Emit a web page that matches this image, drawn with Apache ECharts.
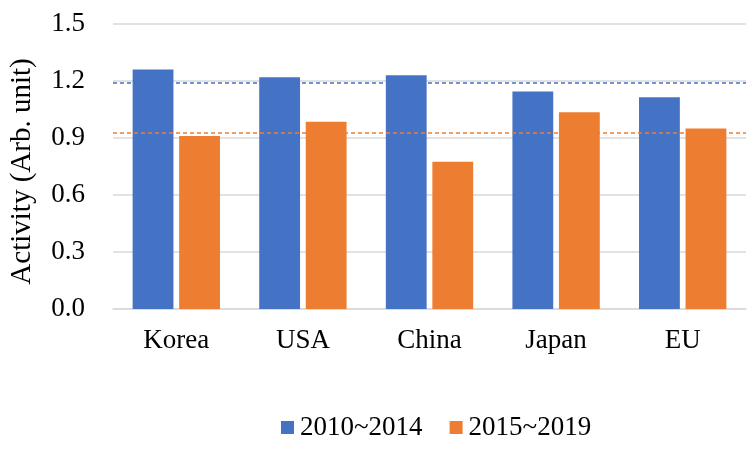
<!DOCTYPE html>
<html>
<head>
<meta charset="utf-8">
<script src="https://cdn.jsdelivr.net/npm/echarts@6/dist/echarts.min.js"></script>
<style>html,body{margin:0;padding:0;background:#fff}#c{width:756px;height:456px}</style>
</head>
<body>
<div id="c"></div>
<script>
const categories = ['Korea', 'USA', 'China', 'Japan', 'EU'];
const seriesNames = ['2010~2014', '2015~2019'];
const values2010 = [1.26, 1.22, 1.23, 1.145, 1.115];
const values2015 = [0.91, 0.985, 0.775, 1.035, 0.95];
const yTicks = { min: 0, max: 1.5, interval: 0.3 };
const yAxisTitle = 'Activity (Arb. unit)';

const font = '"Liberation Serif", "Times New Roman", serif';
const chart = echarts.init(document.getElementById('c'), null, { renderer: 'canvas' });
function avgLine(color) {
  return {
    silent: true,
    symbol: ['none', 'none'],
    label: { show: false },
    lineStyle: { color: color, type: [4, 3], width: 1.5 },
    data: [{ type: 'average' }]
  };
}
chart.setOption({
  animation: false,
  textStyle: { fontFamily: font, color: '#000' },
  grid: { left: 111, right: 10, top: 24, bottom: 147 },
  legend: {
    left: 281, top: 414, padding: 0,
    itemWidth: 13, itemHeight: 13, itemGap: 27,
    icon: 'rect',
    textStyle: { fontFamily: font, fontSize: 27, color: '#000', padding: [0, 0, 0, 1] },
    data: seriesNames
  },
  xAxis: {
    type: 'category',
    data: categories,
    axisLine: { lineStyle: { color: '#d9d9d9', width: 1.5 } },
    axisTick: { show: false },
    axisLabel: { fontFamily: font, fontSize: 27, color: '#000', margin: 18 }
  },
  yAxis: {
    type: 'value',
    min: yTicks.min, max: yTicks.max, interval: yTicks.interval,
    name: yAxisTitle,
    nameLocation: 'middle',
    nameGap: 76,
    nameTextStyle: { fontFamily: font, fontSize: 29, color: '#000', padding: [0, 10, 0, 0] },
    axisLine: { show: false },
    axisTick: { show: false },
    splitLine: { lineStyle: { color: '#d9d9d9', width: 1.5 } },
    axisLabel: { fontFamily: font, fontSize: 27, color: '#000', margin: 28,
      formatter: v => v.toFixed(1) }
  },
  series: [
    { name: seriesNames[0], type: 'bar', data: values2010, barGap: '14%', barCategoryGap: '31%',
      itemStyle: { color: '#4472C4' }, markLine: avgLine('#4472C4') },
    { name: seriesNames[1], type: 'bar', data: values2015,
      itemStyle: { color: '#ED7D31' }, markLine: avgLine('#ED7D31') }
  ]
});
</script>
</body>
</html>
